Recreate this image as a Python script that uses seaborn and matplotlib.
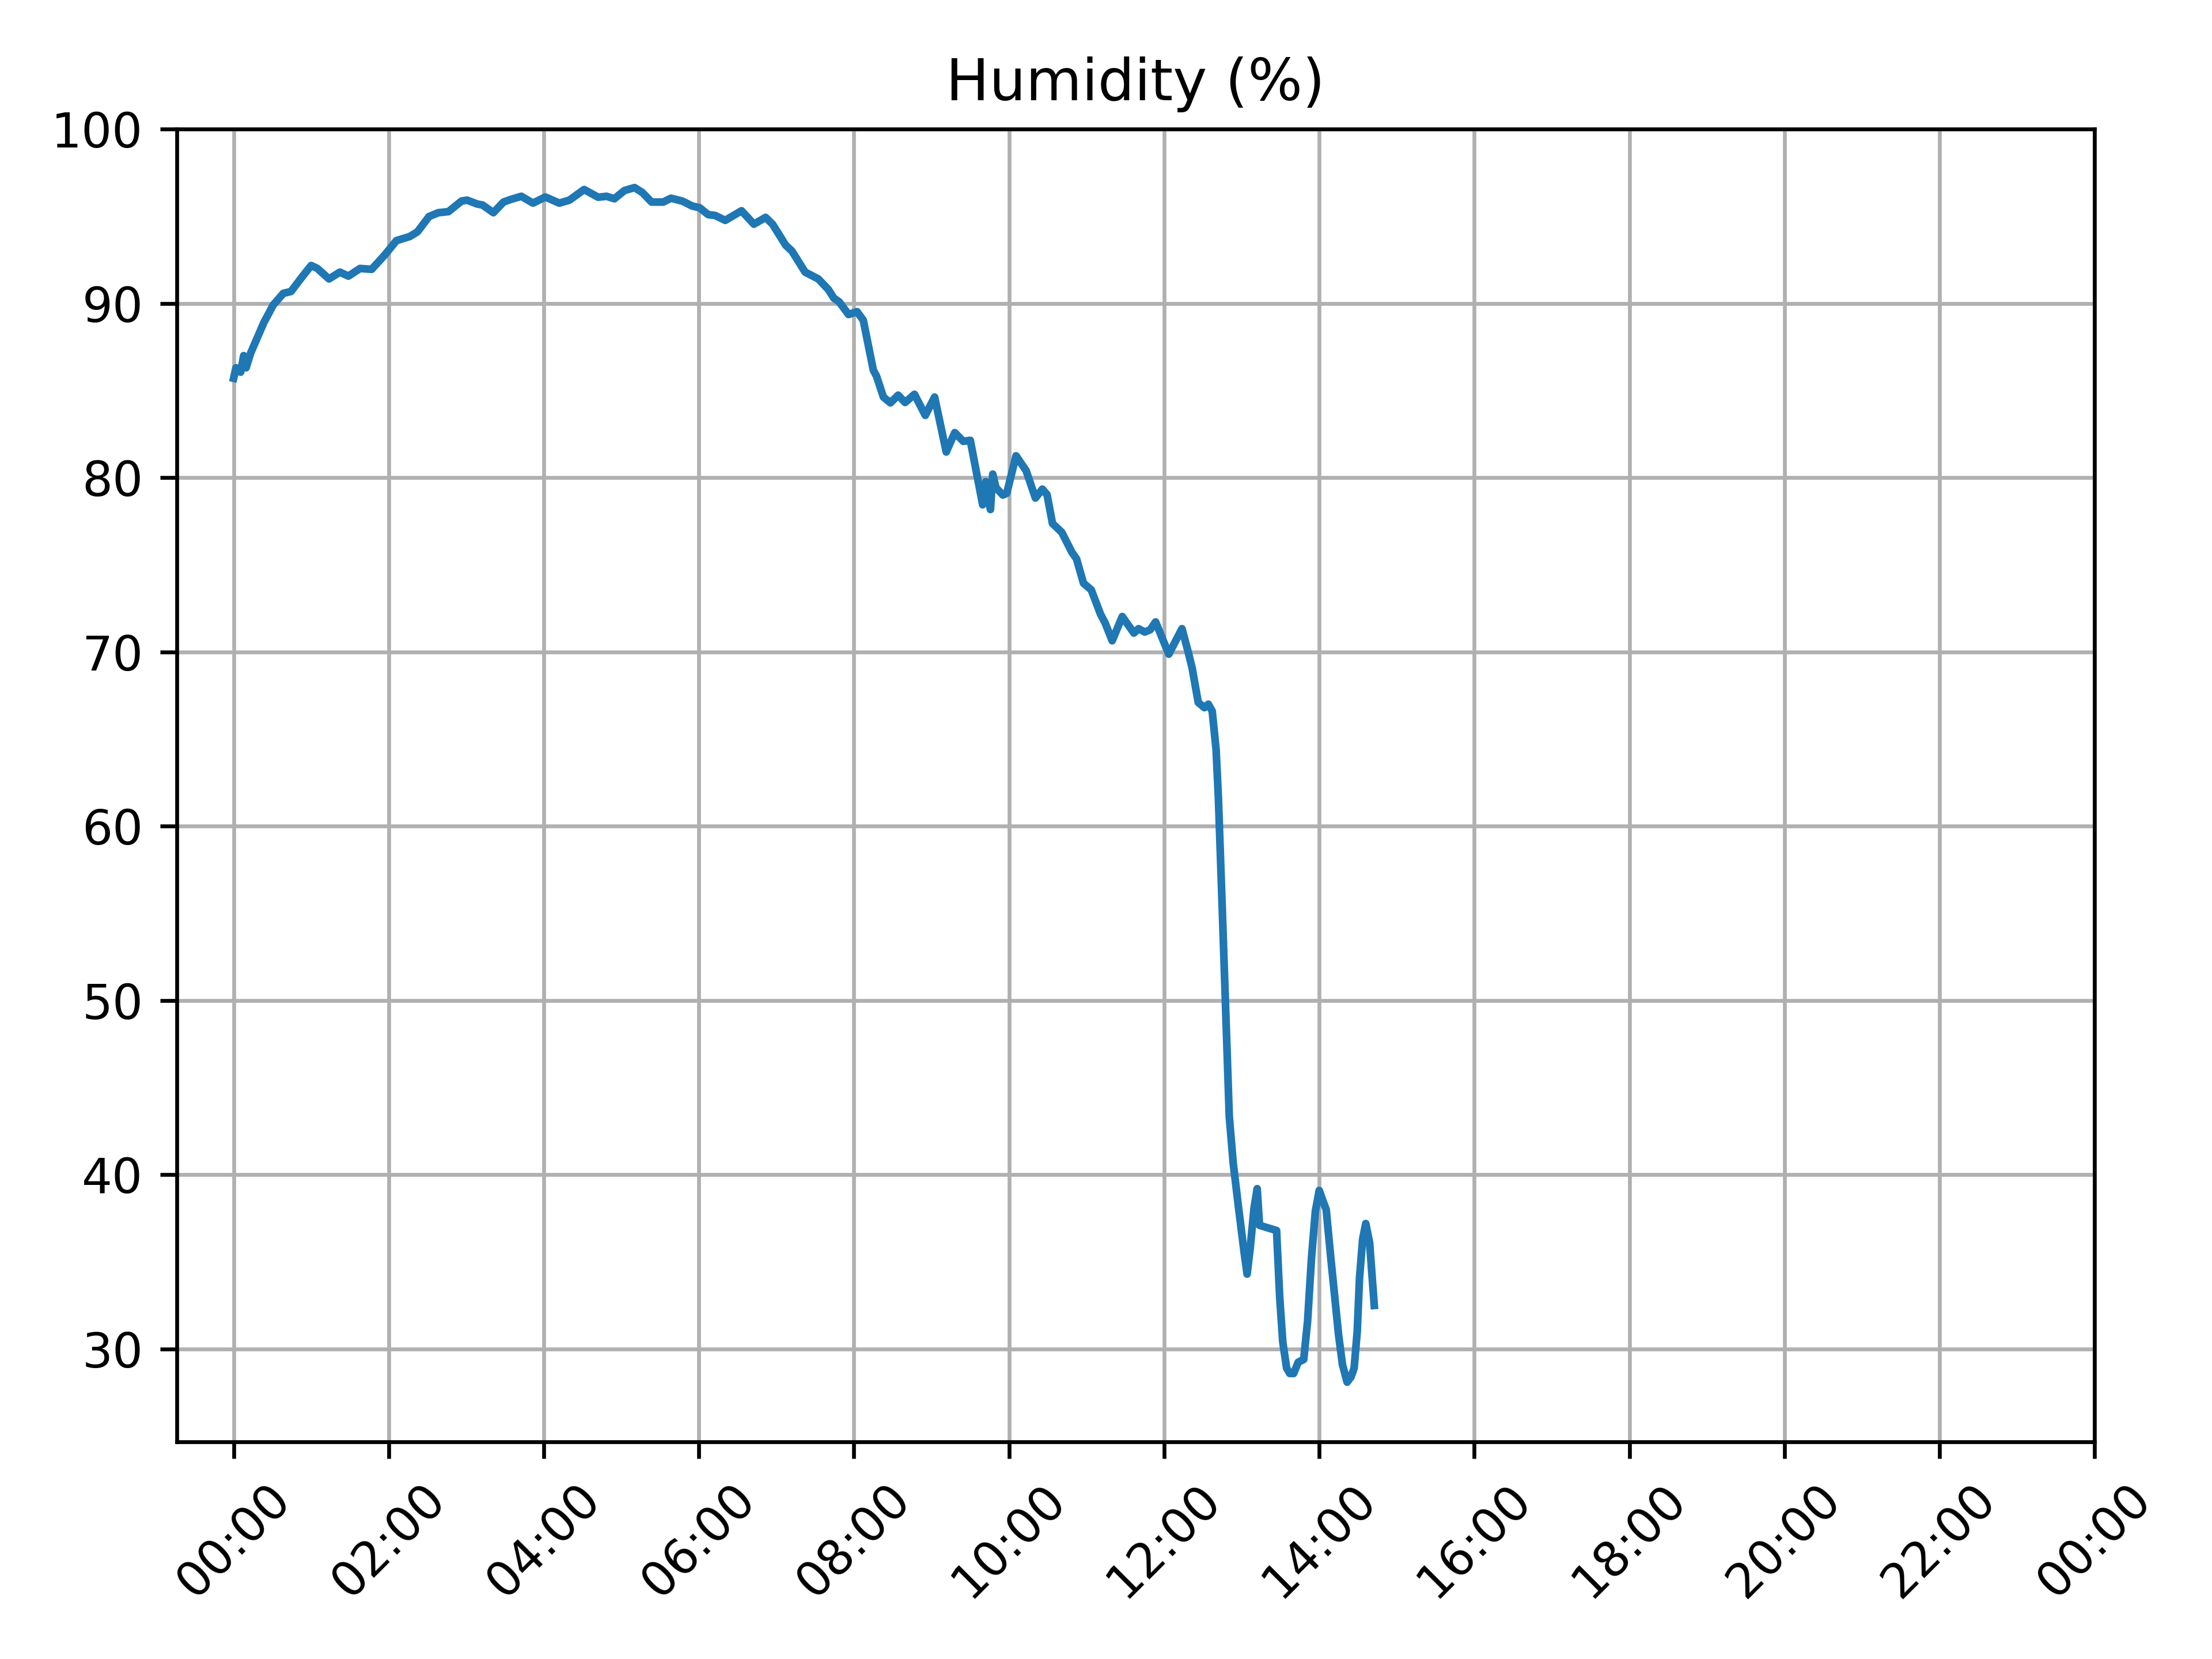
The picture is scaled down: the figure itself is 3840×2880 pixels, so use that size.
import numpy as np
import pandas as pd
import seaborn as sns
import matplotlib.pyplot as plt
import matplotlib.dates as mdates

DAY = pd.Timestamp("2024-01-01")

# hours since midnight
hours = [
    0.00, 0.03, 0.09, 0.13, 0.16, 0.22, 0.39, 0.51, 0.64, 0.74, 0.89, 1.00,
    1.08, 1.23, 1.37, 1.48, 1.63, 1.78, 1.95, 2.10, 2.27, 2.37, 2.52, 2.64,
    2.77, 2.94, 3.01, 3.14, 3.21, 3.35, 3.48, 3.58, 3.71, 3.86, 4.02, 4.20,
    4.33, 4.52, 4.70, 4.81, 4.91, 5.04, 5.17, 5.27, 5.39, 5.54, 5.64, 5.79,
    5.91, 6.01, 6.12, 6.21, 6.34, 6.55, 6.71, 6.86, 6.95, 7.12, 7.20, 7.37,
    7.54, 7.67, 7.74, 7.81, 7.93, 8.04, 8.12, 8.25, 8.29, 8.38, 8.47, 8.57,
    8.66, 8.78, 8.92, 9.04, 9.19, 9.30, 9.41, 9.50, 9.66, 9.70, 9.76, 9.79,
    9.83, 9.92, 9.97, 10.09, 10.22, 10.34, 10.43, 10.49, 10.56, 10.68, 10.81,
    10.87, 10.96, 11.06, 11.18, 11.24, 11.33, 11.46, 11.61, 11.67, 11.75,
    11.82, 11.89, 12.06, 12.23, 12.31, 12.36, 12.44, 12.52, 12.57, 12.62,
    12.67, 12.70, 12.75, 12.79, 12.84, 12.89, 12.96, 13.03, 13.07, 13.11,
    13.16, 13.20, 13.23, 13.45, 13.49, 13.53, 13.58, 13.62, 13.67, 13.73,
    13.80, 13.85, 13.90, 13.95, 14.00, 14.04, 14.09, 14.15, 14.20, 14.25,
    14.30, 14.36, 14.41, 14.45, 14.49, 14.52, 14.56, 14.60, 14.65, 14.71,
]

humidity = [
    85.7, 86.3, 86.05, 87.0, 86.3, 87.15, 88.9, 89.9, 90.57, 90.68, 91.56, 92.17,
    92.0, 91.4, 91.79, 91.56, 92.0, 91.95, 92.78, 93.6, 93.83, 94.1, 94.98, 95.2,
    95.26, 95.87, 95.92, 95.7, 95.64, 95.2, 95.81, 95.97, 96.14, 95.75, 96.1, 95.75,
    95.92, 96.53, 96.09, 96.14, 96.0, 96.47, 96.64, 96.36, 95.81, 95.81, 96.03, 95.86,
    95.59, 95.48, 95.09, 95.04, 94.76, 95.31, 94.54, 94.93, 94.54, 93.33, 93.0, 91.79,
    91.4, 90.79, 90.3, 90.08, 89.36, 89.52, 89.03, 86.16, 85.83, 84.62, 84.29, 84.73,
    84.31, 84.78, 83.57, 84.62, 81.47, 82.58, 82.08, 82.14, 78.44, 79.77, 78.17, 80.2,
    79.43, 79.0, 79.1, 81.25, 80.4, 78.83, 79.34, 79.02, 77.37, 76.86, 75.72,
    75.34, 73.94, 73.56, 72.16, 71.65, 70.64, 72.03, 71.08, 71.33, 71.14,
    71.27, 71.72, 69.87, 71.33, 70.0, 69.1, 67.1, 66.8, 67.0, 66.6,
    64.4, 61.6, 55.2, 49.9, 43.35, 40.7, 38.1, 35.6, 34.3, 35.8,
    38.1, 39.2, 37.1, 36.8, 33.0, 30.4, 28.9, 28.6, 28.6, 29.25,
    29.4, 31.6, 35.2, 37.9, 39.1, 38.6, 38.0, 35.2, 33.0, 30.8,
    29.1, 28.1, 28.4, 28.9, 31.0, 34.1, 36.3, 37.2, 36.1, 32.5,
]

df = pd.DataFrame({
    "time": DAY + pd.to_timedelta(hours, unit="h"),
    "humidity": humidity,
})

fig, ax = plt.subplots(figsize=(6.4, 4.8))
sns.lineplot(data=df, x="time", y="humidity", ax=ax, linewidth=1.6)

ax.set_title("Humidity (%)")
ax.set(xlabel=None, ylabel=None)
ax.set_ylim(top=100)
ax.set_xlim(right=DAY + pd.Timedelta(days=1))
ax.xaxis.set_major_locator(mdates.HourLocator(byhour=range(0, 24, 2)))
ax.xaxis.set_major_formatter(mdates.DateFormatter("%H:%M"))
plt.setp(ax.get_xticklabels(), rotation=45)
ax.grid(True)

plt.tight_layout()
plt.savefig("out.png", dpi=600)
